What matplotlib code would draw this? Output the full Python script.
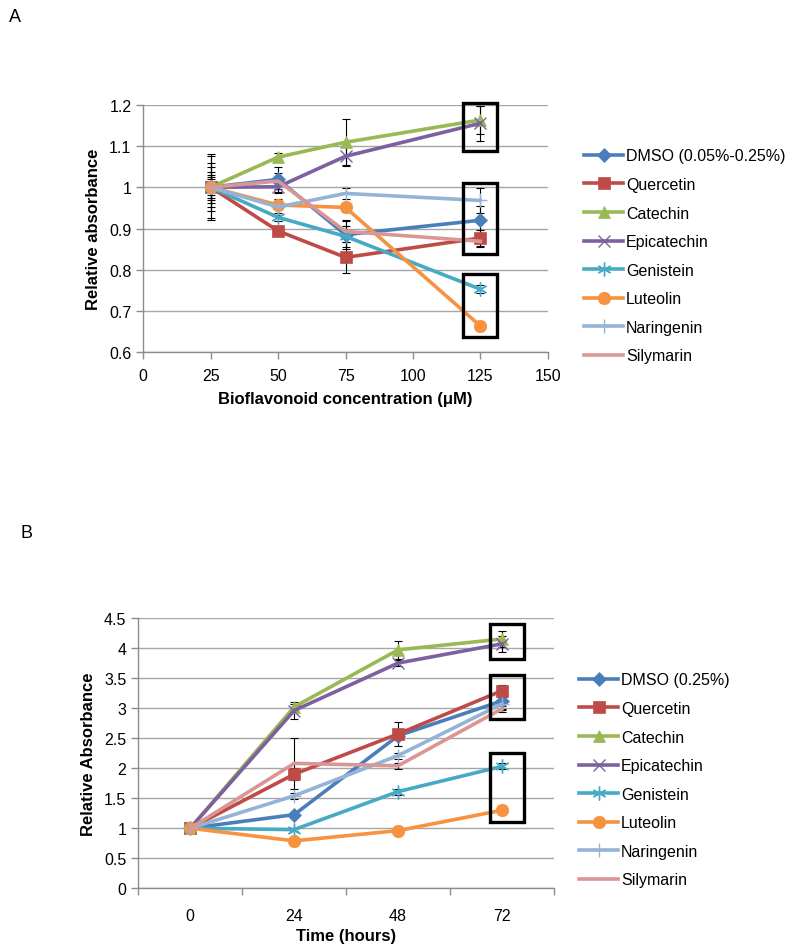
import matplotlib
matplotlib.use("Agg")
import matplotlib.pyplot as plt
from matplotlib.patches import Rectangle

plt.rcParams['font.family'] = ['Liberation Sans', 'DejaVu Sans']

series = ["DMSO (0.05%-0.25%)", "Quercetin", "Catechin", "Epicatechin",
          "Genistein", "Luteolin", "Naringenin", "Silymarin"]
series_b = ["DMSO (0.25%)", "Quercetin", "Catechin", "Epicatechin",
            "Genistein", "Luteolin", "Naringenin", "Silymarin"]

# Panel A
conc = [25, 50, 75, 125]
a_dmso = [1.0, 1.019, 0.885, 0.92]
a_quer = [1.0, 0.894, 0.83, 0.877]
a_cate = [1.0, 1.073, 1.109, 1.163]
a_epic = [1.0, 1.001, 1.075, 1.155]
a_geni = [1.0, 0.927, 0.881, 0.753]
a_lute = [1.0, 0.957, 0.951, 0.664]
a_nari = [1.0, 0.952, 0.985, 0.968]
a_sily = [1.0, 1.015, 0.893, 0.869]

ea_dmso = [0.08, 0.03, 0.035, 0.035]
ea_quer = [0.058, 0.01, 0.037, 0.02]
ea_cate = [0.038, 0.01, 0.057, 0.034]
ea_epic = [0.026, 0.015, 0.022, 0.043]
ea_geni = [0.048, 0.01, 0.025, 0.01]
ea_lute = [0.075, 0.01, 0.01, 0.01]
ea_nari = [0.02, 0.02, 0.013, 0.03]
ea_sily = [0.03, 0.02, 0.025, 0.015]

# Panel B
time_labels = ["0", "24", "48", "72"]
b_dmso = [1.0, 1.226, 2.54, 3.12]
b_quer = [1.0, 1.90, 2.57, 3.29]
b_cate = [1.0, 3.02, 3.97, 4.15]
b_epic = [1.0, 2.96, 3.75, 4.07]
b_geni = [1.0, 0.977, 1.61, 2.03]
b_lute = [1.0, 0.79, 0.96, 1.30]
b_nari = [1.0, 1.54, 2.21, 3.07]
b_sily = [1.0, 2.08, 2.04, 2.99]

eb_dmso = [0.0, 0.05, 0.05, 0.15]
eb_quer = [0.0, 0.10, 0.20, 0.10]
eb_cate = [0.0, 0.05, 0.15, 0.13]
eb_epic = [0.0, 0.14, 0.05, 0.13]
eb_geni = [0.0, 0.03, 0.05, 0.05]
eb_lute = [0.0, 0.03, 0.03, 0.03]
eb_nari = [0.0, 0.05, 0.05, 0.08]
eb_sily = [0.0, 0.42, 0.05, 0.05]

colors = ["#4A7EBB", "#BE4B48", "#98B954", "#7D60A0", "#46AAC5", "#F69240", "#95B3D7", "#D99694"]
markers = ["D", "s", "^", "x", (6, 2, 0), "o", "+", None]
msizes = [7, 9, 8, 9, 10, 9, 10, 0]

W, H = 800, 953
fig = plt.figure(figsize=(W / 100, H / 100), dpi=100)

def frac(l, t, r, b):
    return [l / W, 1 - b / H, (r - l) / W, (b - t) / H]

grid_c = "#A6A6A6"
axis_c = "#8C8C8C"

def style(ax):
    for s in ["top", "right"]:
        ax.spines[s].set_visible(False)
    for s in ["left", "bottom"]:
        ax.spines[s].set_color(axis_c)
        ax.spines[s].set_linewidth(1.0)
    ax.yaxis.grid(True, color=grid_c, linewidth=1.0)
    ax.set_axisbelow(True)
    ax.tick_params(axis="both", colors=axis_c, labelcolor="black", labelsize=11.5,
                   length=5, width=1.0, direction="out")

def plot_series(ax, x, ys, errs, names):
    handles = []
    for y, e, c, m, ms, n in zip(ys, errs, colors, markers, msizes, names):
        ax.errorbar(x, y, yerr=e, fmt="none", ecolor="black", elinewidth=0.8,
                    capsize=3, capthick=0.8, zorder=2)
        kw = dict(color=c, linewidth=2.6, label=n, zorder=3)
        if m is not None:
            mew = 1.0 if m in ("x", "+") or isinstance(m, tuple) else 0.5
            kw.update(marker=m, markersize=ms, markerfacecolor=c, markeredgecolor=c, markeredgewidth=mew)
        h, = ax.plot(x, y, **kw)
        handles.append(h)
    return handles

# ---- Panel A ----
axA = fig.add_axes(frac(143.3, 105.7, 547.7, 353.3))
style(axA)
hA = plot_series(axA, conc,
                 [a_dmso, a_quer, a_cate, a_epic, a_geni, a_lute, a_nari, a_sily],
                 [ea_dmso, ea_quer, ea_cate, ea_epic, ea_geni, ea_lute, ea_nari, ea_sily],
                 series)
axA.set_xlim(0, 150)
axA.set_ylim(0.6, 1.2)
axA.set_xticks([0, 25, 50, 75, 100, 125, 150])
axA.set_yticks([0.6, 0.7, 0.8, 0.9, 1.0, 1.1, 1.2])
axA.set_yticklabels(["0.6", "0.7", "0.8", "0.9", "1", "1.1", "1.2"])
axA.tick_params(axis="x", pad=6)
axA.set_xlabel("Bioflavonoid concentration (μM)", fontsize=12, fontweight="bold", labelpad=6)
axA.set_ylabel("Relative absorbance", fontsize=12, fontweight="bold", labelpad=6)
for (y0, y1) in [(1.089, 1.204), (0.839, 1.011), (0.638, 0.790)]:
    axA.add_patch(Rectangle((118.7, y0), 12.6, y1 - y0, fill=False, edgecolor="black",
                            linewidth=2.4, clip_on=False, zorder=6))
legA = fig.legend(handles=hA, loc="upper left", bbox_to_anchor=(578 / W, 1 - 143 / H),
                  frameon=False, fontsize=11.5, handlelength=2.4, handletextpad=0.2,
                  labelspacing=0.85, borderaxespad=0)

# ---- Panel B ----
axB = fig.add_axes(frac(138.3, 619, 554, 889.3))
style(axB)
xb = list(range(len(time_labels)))
hB = plot_series(axB, xb,
                 [b_dmso, b_quer, b_cate, b_epic, b_geni, b_lute, b_nari, b_sily],
                 [eb_dmso, eb_quer, eb_cate, eb_epic, eb_geni, eb_lute, eb_nari, eb_sily],
                 series_b)
axB.set_xlim(-0.5, 3.5)
axB.set_ylim(0, 4.5)
axB.set_xticks(xb)
axB.set_xticklabels(time_labels)
axB.tick_params(axis="x", length=0, pad=14)
axB.set_xticks([-0.5, 0.5, 1.5, 2.5, 3.5], minor=True)
axB.tick_params(axis="x", which="minor", length=5, width=1.0, colors=axis_c)
axB.set_yticks([0, 0.5, 1, 1.5, 2, 2.5, 3, 3.5, 4, 4.5])
axB.set_yticklabels(["0", "0.5", "1", "1.5", "2", "2.5", "3", "3.5", "4", "4.5"])
axB.set_xlabel("Time (hours)", fontsize=12, fontweight="bold", labelpad=4)
axB.set_ylabel("Relative Absorbance", fontsize=12, fontweight="bold", labelpad=6)
for (y0, y1) in [(3.82, 4.40), (2.82, 3.55), (1.10, 2.26)]:
    axB.add_patch(Rectangle((2.882, y0), 0.33, y1 - y0, fill=False, edgecolor="black",
                            linewidth=2.4, clip_on=False, zorder=6))
legB = fig.legend(handles=hB, loc="upper left", bbox_to_anchor=(573 / W, 1 - 667 / H),
                  frameon=False, fontsize=11.5, handlelength=2.4, handletextpad=0.2,
                  labelspacing=0.85, borderaxespad=0)

fig.text(15 / W, 1 - 18 / H, "A", fontsize=13, ha="center", va="center")
fig.text(27 / W, 1 - 533 / H, "B", fontsize=13, ha="center", va="center")

fig.savefig("out.png", dpi=100)
